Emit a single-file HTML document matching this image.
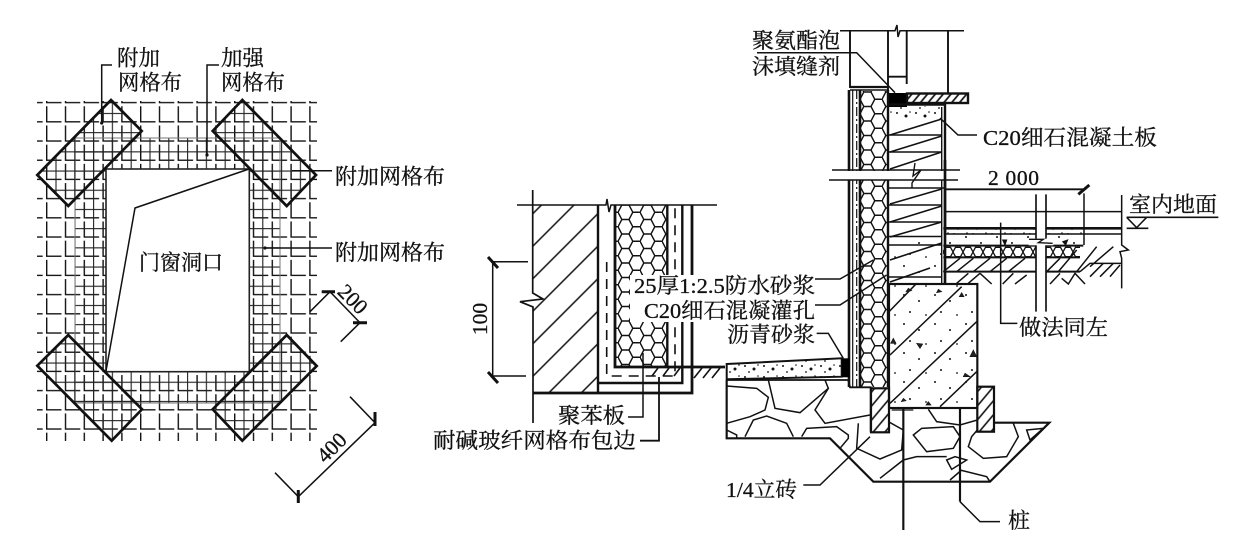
<!DOCTYPE html>
<html>
<head>
<meta charset="utf-8">
<style>
html,body{margin:0;padding:0;background:#fff;width:1241px;height:536px;overflow:hidden}
svg{display:block}
text{font-family:"Liberation Serif","Noto Serif CJK SC",serif;font-size:21.500px;fill:#111;stroke:#111;stroke-width:.3px}
</style>
</head>
<body>
<svg xmlns="http://www.w3.org/2000/svg" width="1241" height="536" viewBox="0 0 1241 536">
<defs>
<pattern id="g1" patternUnits="userSpaceOnUse" width="18.8" height="19.2" patternTransform="translate(46 103.3)">
<path d="M0.7 3V18.6H15.500" fill="none" stroke="#111" stroke-width="1.400"/>
</pattern>
<pattern id="g2" patternUnits="userSpaceOnUse" width="18.8" height="19.2" patternTransform="translate(55.4 112.9)">
<path d="M0.6 0V19.2M0 0.6H18.8" fill="none" stroke="#222" stroke-width="1.100"/>
</pattern>
<pattern id="hex" patternUnits="userSpaceOnUse" width="22" height="14.500" patternTransform="translate(618 205)">
<path d="M0 7.250L3.800 0H11L14.800 7.250L11 14.500H3.800ZM14.800 7.250H22" fill="none" stroke="#111" stroke-width="1.400"/>
</pattern>
<pattern id="hex2" patternUnits="userSpaceOnUse" width="22" height="14.500" patternTransform="translate(860 92)">
<path d="M0 7.250L3.800 0H11L14.800 7.250L11 14.500H3.800ZM14.800 7.250H22" fill="none" stroke="#111" stroke-width="1.400"/>
</pattern>
<pattern id="hex3" patternUnits="userSpaceOnUse" width="10" height="11" patternTransform="translate(943 246.500)">
<path d="M0 5.500L2.500 .8H7.500L10 5.500L7.500 10.200H2.500Z" fill="none" stroke="#111" stroke-width="1.300"/>
</pattern>
<pattern id="h1" patternUnits="userSpaceOnUse" width="23" height="23" patternTransform="translate(533 205) rotate(-45)">
<path d="M0 6H23" stroke="#111" stroke-width="1.500"/>
</pattern>
<pattern id="h2" patternUnits="userSpaceOnUse" width="6" height="6" patternTransform="rotate(-50)">
<path d="M0 3H6" stroke="#111" stroke-width="1.700"/>
</pattern>
<pattern id="h3" patternUnits="userSpaceOnUse" width="9" height="9" patternTransform="translate(871 388) rotate(-50)">
<path d="M0 3H9" stroke="#111" stroke-width="1.600"/>
</pattern>
<pattern id="dots" patternUnits="userSpaceOnUse" width="19" height="11">
<circle cx="4" cy="3" r="1" fill="#111"/><circle cx="13" cy="6" r="1.500" fill="#111"/><circle cx="8" cy="9" r=".9" fill="#111"/><circle cx="17" cy="2" r=".8" fill="#111"/>
</pattern>
<pattern id="dots2" patternUnits="userSpaceOnUse" width="31" height="29">
<circle cx="5" cy="5" r="1" fill="#111"/><circle cx="20" cy="11" r="1" fill="#111"/><circle cx="11" cy="22" r="1" fill="#111"/><circle cx="27" cy="25" r=".9" fill="#111"/>
</pattern>
</defs>
<rect width="1241" height="536" fill="#fff"/>

<!-- LEFT: grid -->
<rect x="37" y="101" width="280" height="340" fill="url(#g1)"/>
<rect x="75" y="138" width="205" height="265" fill="url(#g2)"/>
<rect x="75" y="138" width="205" height="265" fill="none" stroke="#777" stroke-width="1"/>
<g fill="url(#g2)" stroke="none">
<polygon points="111,100 141.7,131 68.3,206 37.3,175"/>
<polygon points="242.3,100 212.7,131 286.7,206 316,175"/>
<polygon points="68.3,335 37.3,365.7 111.7,440.7 142,409.3"/>
<polygon points="286.7,335 316.7,366 242.3,440.7 212.7,409.3"/>
</g>
<rect x="106" y="169" width="143.3" height="202.7" fill="#fff" stroke="#222" stroke-width="1.600"/>
<path d="M249 169L135 208L106 371" fill="none" stroke="#111" stroke-width="1.500"/>
<g fill="none" stroke="#111" stroke-width="2.700" stroke-linejoin="miter">
<polygon points="111,100 141.7,131 68.3,206 37.3,175"/>
<polygon points="242.3,100 212.7,131 286.7,206 316,175"/>
<polygon points="68.3,335 37.3,365.7 111.7,440.7 142,409.3"/>
<polygon points="286.7,335 316.7,366 242.3,440.7 212.7,409.3"/>
</g>
<g fill="none" stroke="#111" stroke-width="1.500">
<path d="M112 65H101.700V123"/>
<path d="M219 65H207V155"/>
<path d="M292 170.700H332"/>
<path d="M265 248H332"/>
<path d="M310 311.700L330 291.700L360 322.700L340.700 341.700"/>
<path d="M350 396.700L375 422.700L298.300 496.700L275 472.700"/>
</g>
<path d="M321.700 291.700H335M353 322.700H367M375 412V426M298.300 490V503" stroke="#111" stroke-width="3" fill="none"/>
<circle cx="101.700" cy="123" r="1.600" fill="#111"/><circle cx="207" cy="155" r="1.600" fill="#111"/><circle cx="265" cy="248" r="1.600" fill="#111"/>
<text x="117" y="65.500" textLength="43" lengthAdjust="spacingAndGlyphs">附加</text>
<text x="118" y="90" textLength="64" lengthAdjust="spacingAndGlyphs">网格布</text>
<text x="221" y="65.500" textLength="43" lengthAdjust="spacingAndGlyphs">加强</text>
<text x="221" y="90" textLength="64" lengthAdjust="spacingAndGlyphs">网格布</text>
<text x="335" y="184" textLength="110" lengthAdjust="spacingAndGlyphs">附加网格布</text>
<text x="335" y="260" textLength="110" lengthAdjust="spacingAndGlyphs">附加网格布</text>
<text x="139" y="270" textLength="84" lengthAdjust="spacingAndGlyphs">门窗洞口</text>
<text transform="translate(352.700 299.300) rotate(45)" text-anchor="middle" y="7">200</text>
<text transform="translate(331.700 447.700) rotate(-45)" text-anchor="middle" y="7">400</text>

<!-- MIDDLE SECTION -->
<g fill="none" stroke="#111">
<path d="M517 205H606L607 199L609 212L611 205H717" stroke-width="1.500"/>
<rect x="533" y="205" width="65" height="188" fill="url(#h1)" stroke="none"/>
<path d="M532.700 190V293L543 299L520 301.700L533 307V423" stroke-width="1.700" fill="#fff"/>
<path d="M598 205V393" stroke-width="2.400"/>
<path d="M533 393H692V205" stroke-width="2.800"/>
<path d="M598 383H682.300V205" stroke-width="2.400"/>
<rect x="616" y="205" width="51" height="162" fill="url(#hex)" stroke="none"/>
<path d="M615 205V367H725" stroke-width="2.800"/>
<path d="M667.300 205V367" stroke-width="2.400"/>
<path d="M606.700 262V376H675V205" stroke-width="1.600" stroke-dasharray="10 7"/>
<path d="M652 376L658 368M663 376L669 368M674 376L680 368M694 378L702 368M703 378L711 368M712 378L720 368" stroke-width="1.600"/>
<path d="M492.700 262V378M492 261.700H528M492 376H526" stroke-width="1.500"/>
<path d="M488 257L498 268M488 372L498 383" stroke-width="3"/>
</g>
<rect x="630" y="275" width="187" height="47" fill="#fff"/>
<rect x="725" y="322" width="92" height="25" fill="#fff"/>
<text transform="translate(487 319) rotate(-90)" text-anchor="middle">100</text>
<g fill="none" stroke="#111" stroke-width="1.500">
<path d="M628 417H643V353"/>
<path d="M640 440.700H659V377" stroke-width="1.800"/>
</g>
<text x="558" y="423" textLength="67" lengthAdjust="spacingAndGlyphs">聚苯板</text>
<text x="433" y="448" textLength="203" lengthAdjust="spacingAndGlyphs">耐碱玻纤网格布包边</text>
<text x="634" y="293" textLength="181" lengthAdjust="spacingAndGlyphs">25厚1:2.5防水砂浆</text>
<text x="644" y="318" textLength="171" lengthAdjust="spacingAndGlyphs">C20细石混凝灌孔</text>
<text x="727" y="342" textLength="88" lengthAdjust="spacingAndGlyphs">沥青砂浆</text>

<!-- RIGHT: upper wall -->
<g fill="none" stroke="#111">
<path d="M840 30.700H895L897 25L898 37L900 30.700H964" stroke-width="1.500"/>
<path d="M850 30.700V88M888 30.700V90M906.700 30.700V84M948 30.700V93M888 76.700H906.700" stroke-width="1.900"/>
<path d="M850 87H888" stroke-width="2.200"/>
<path d="M850 90H888" stroke-width="1.500"/>
</g>
<rect x="860" y="91" width="28" height="296" fill="url(#hex2)"/>
<rect x="888" y="93" width="19" height="14" fill="#000"/>
<rect x="907" y="93.500" width="61" height="9.500" fill="url(#h2)" stroke="#111" stroke-width="2.400"/>
<rect x="889" y="106" width="53" height="12" fill="url(#dots)"/>
<rect x="889" y="238" width="53" height="40" fill="url(#dots2)"/>
<g fill="none" stroke="#111">
<path d="M888 104.500H945V234" stroke-width="2.400"/>
<path d="M941.700 107V284" stroke-width="1.400"/>
<path d="M888 90V387" stroke-width="2.400"/>
<path d="M849 90V387M860 90V387" stroke-width="2.600"/>
<path d="M852.700 90V387" stroke-width="1.200"/>
<path d="M856.700 90V387" stroke-width="1.200" stroke-dasharray="9 3 2 3"/>
<path d="M890 135L941.700 119M890 152L941.700 136M890 169L941.700 152M890 204L941.700 189M890 222L941.700 206M890 237L941.700 222M890 260L941.700 243M890 282L930 268" stroke-width="1.600"/>
<path d="M888 135H941M888 152H941M888 188H945M888 205H941M888 222H941M888 236.500H942M888 245H942M888 277H942" stroke-width="1.400"/>
</g>
<rect x="825" y="171" width="140" height="8.500" fill="#fff"/>
<g fill="none" stroke="#111" stroke-width="1.500">
<path d="M832 170H960M829 180H958"/>
<path d="M915 163L913 176L921 170L912 183L912 188" stroke-width="1.400"/>
<path d="M940 118L958 135H977"/>
<path d="M757 52.700H856.700L895 92.700"/>
</g>
<text x="752" y="48" textLength="88" lengthAdjust="spacingAndGlyphs">聚氨酯泡</text>
<text x="752" y="74" textLength="88" lengthAdjust="spacingAndGlyphs">沫填缝剂</text>
<text x="983" y="145" textLength="174" lengthAdjust="spacingAndGlyphs">C20细石混凝土板</text>

<!-- RIGHT: floor -->
<rect x="943" y="246.500" width="137" height="11" fill="url(#hex3)"/>
<rect x="945" y="229.500" width="138" height="4" fill="url(#dots)"/>
<rect x="945" y="235" width="138" height="10" fill="url(#dots2)"/>
<g transform="translate(930 160) scale(.33333)">
<g fill="none" stroke="#111">
<path d="M45 0V375" stroke-width="8"/>
<path d="M45 88H462" stroke-width="5.500"/>
<path d="M445 103L478 75" stroke-width="9"/>
<path d="M462 100V255M45 155H575M45 222H575" stroke-width="4.500"/>
<path d="M40 205H575" stroke-width="8"/>
<path d="M40 257H460M40 292H450M40 335H450" stroke-width="6"/>
<path d="M450 335L480 310H575" stroke-width="4.500"/>
<path d="M575 105V255L595 270L570 275L575 295V385" stroke-width="4.500"/>
<path d="M40 335L90 295M80 335L130 295M130 335L180 295M180 335L230 295M235 335L285 295M350 335L390 295M385 335L440 270M440 335L500 260M480 320L550 260M480 350L520 310M510 350L550 310M540 350L570 315" stroke-width="4.500"/>
<path d="M80 370L115 340M115 370L150 340M150 340L185 372M218 372L250 340M255 372L290 345M360 372L390 340M395 355L415 372L435 340L465 372" stroke-width="4.500"/>
<path d="M212 188V490H262" stroke-width="4.500"/>
<path d="M590 172H865M590 205H655" stroke-width="5"/>
<path d="M590 172L620 203L650 172" stroke-width="4.500"/>
</g>
<rect x="319" y="198" width="28" height="180" fill="#fff"/>
<rect x="296" y="234" width="74" height="22" fill="#fff"/>
<path d="M318 103V236M348 103V236M318 256V455M348 256V455" stroke="#111" stroke-width="5" fill="none"/>
<path d="M297 238H340L325 248L368 250" stroke="#111" stroke-width="4" fill="none"/>
<path d="M218 240L230 240L225 255ZM398 245L413 240L407 255Z" fill="#111" stroke="#111" stroke-width="3"/>
</g>
<text x="988" y="185" textLength="51" lengthAdjust="spacing">2 000</text>
<text x="1129" y="212" textLength="88" lengthAdjust="spacingAndGlyphs">室内地面</text>
<text x="1019" y="335" textLength="89" lengthAdjust="spacingAndGlyphs">做法同左</text>

<!-- RIGHT: foundation -->
<rect x="889" y="284" width="88.300" height="124" fill="#fff"/>
<rect x="889" y="284" width="88.300" height="124" fill="url(#dots2)"/>
<polygon points="726.700,364 841.700,358.300 841.700,376.700 726.700,379.300" fill="url(#dots)" stroke="#111" stroke-width="2"/>
<rect x="841.700" y="358.300" width="8" height="19" fill="#000"/>
<g transform="translate(700 260) scale(.33333)">
<path d="M80 360V535H390L520 665H870L1048 488H880" fill="none" stroke="#111" stroke-width="6.500"/>
<path d="M80 360H445L450 382H512V515" fill="none" stroke="#111" stroke-width="5.500"/>
<g fill="none" stroke="#111" stroke-width="4.500">
<path d="M205 360L225 445L300 458L385 385L375 360"/>
<path d="M80 378L170 385L205 412L195 450L150 470L80 490"/>
<path d="M385 385L345 450L375 490L510 465"/>
<path d="M135 530L160 480L200 468L260 490L280 530"/>
<path d="M80 510L110 525V535"/>
<path d="M305 530L320 505L410 500L445 525V535L420 565"/>
<path d="M475 490L470 565L540 597L605 570L610 510L565 485"/>
<path d="M640 525L665 505L760 500L780 530L760 565L680 575Z"/>
<path d="M685 448L710 485L780 495L832 480"/>
<path d="M940 490L955 530L920 590L850 595L805 560L815 530L832 510"/>
<path d="M980 510L1030 505L990 540Z"/>
<path d="M740 600L765 590L800 600L755 628Z"/>
<path d="M540 655L610 600L650 590L740 590"/>
<path d="M780 630L860 650L870 665M750 660L785 630"/>
</g>
</g>
<rect x="871" y="388.300" width="18" height="44" fill="#fff"/>
<rect x="871" y="388.300" width="18" height="44" fill="url(#h3)" stroke="#111" stroke-width="2.200"/>
<rect x="977.300" y="386.700" width="16.700" height="45" fill="#fff"/>
<rect x="977.300" y="386.700" width="16.700" height="45" fill="url(#h3)" stroke="#111" stroke-width="2.200"/>
<g transform="translate(700 260) scale(.33333)">
<g fill="none" stroke="#111">
<rect x="567" y="72" width="265" height="372" stroke-width="6.500"/>
<path d="M567 155L650 70M570 285L785 80M570 430L830 185M720 440L830 335" stroke-width="4.500"/>
<path d="M610 445V810M780 445V725" stroke-width="6.500"/>
<path d="M575 450H640" stroke-width="3.500"/>
<path d="M780 725L840 785H900" stroke-width="4.500"/>
<path d="M310 675H360L510 530" stroke-width="4.500"/>
<path d="M345 57H420L520 0" stroke-width="4.500"/>
<path d="M345 135H420L560 45" stroke-width="4.500"/>
<path d="M350 220H385L430 295" stroke-width="4.500"/>
<path d="M580 235L588 250H572ZM650 250L668 252L660 265ZM785 98L792 110H778ZM820 270L830 290H810ZM795 340L810 350H790ZM610 415L618 422L604 425ZM685 425L693 435H678ZM625 85L635 92L618 95ZM715 88L725 95L710 98Z" fill="#222" stroke="#111" stroke-width="2"/>
</g>
</g>
<text x="726" y="497" textLength="71" lengthAdjust="spacingAndGlyphs">1/4立砖</text>
<text x="1008" y="528" textLength="22" lengthAdjust="spacingAndGlyphs">桩</text>
</svg>
</body>
</html>
